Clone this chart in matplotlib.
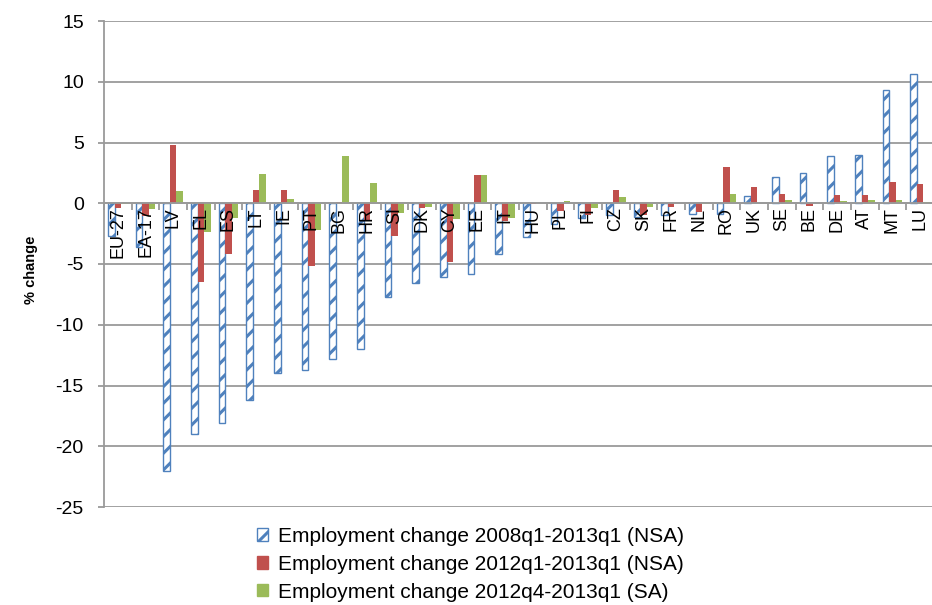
import numpy as np
import matplotlib.pyplot as plt
from matplotlib.patches import Patch

plt.rcParams["font.family"] = ["Liberation Sans", "DejaVu Sans"]
plt.rcParams["hatch.linewidth"] = 2.2
plt.rcParams["axes.unicode_minus"] = False

countries = ["EU-27", "EA-17", "LV", "EL", "ES", "LT", "IE", "PT", "BG", "HR",
             "SI", "DK", "CY", "EE", "IT", "HU", "PL", "FI", "CZ", "SK",
             "FR", "NL", "RO", "UK", "SE", "BE", "DE", "AT", "MT", "LU"]

# employment change, %
chg_2008_2013 = [-2.7, -3.6, -22.0, -19.0, -18.1, -16.2, -14.0, -13.7, -12.8, -12.0,
                 -7.7, -6.6, -6.1, -5.8, -4.2, -2.8, -1.7, -1.2, -1.0, -1.1,
                 -1.0, -0.9, -0.85, 0.6, 2.2, 2.5, 3.9, 3.95, 9.35, 10.6]
chg_2012_2013 = [-0.4, -1.05, 4.8, -6.5, -4.2, 1.1, 1.1, -5.2, 0.1, -1.4,
                 -2.7, -0.4, -4.8, 2.3, -1.45, -0.05, -0.65, -1.0, 1.1, -1.0,
                 -0.3, -0.7, 3.0, 1.35, 0.75, -0.2, 0.65, 0.65, 1.75, 1.55]
chg_q4_q1 = [-0.1, -0.5, 1.0, -2.4, -1.2, 2.4, 0.35, -2.2, 3.9, 1.7,
             -0.8, -0.3, -1.3, 2.3, -1.25, 0.05, 0.2, -0.4, 0.55, -0.3,
             0.0, -0.1, 0.75, 0.05, 0.25, 0.05, 0.15, 0.3, 0.3, 0.1]

legend_labels = ["Employment change 2008q1-2013q1 (NSA)",
                 "Employment change 2012q1-2013q1 (NSA)",
                 "Employment change 2012q4-2013q1 (SA)"]

blue = "#4F81BD"
red = "#C0504D"
green = "#9BBB59"
grey = "#9A9A9A"

fig = plt.figure(figsize=(9.32, 6.05), dpi=100)
ax = fig.add_axes([104 / 932, 98 / 605, 830 / 932, 486 / 605])

x = np.arange(len(countries))
w = 0.24
ax.bar(x - w, chg_2008_2013, w, facecolor="white", edgecolor=blue,
       hatch="//", linewidth=1.0, zorder=1)
ax.bar(x, chg_2012_2013, w, color=red, zorder=1)
ax.bar(x + w, chg_q4_q1, w, color=green, zorder=1)

ax.set_ylim(-25, 15)
ax.set_xlim(-0.5, len(countries) - 0.5)
ax.set_yticks(np.arange(-25, 16, 5))
for yv in np.arange(-25, 16, 5):
    ax.axhline(yv, color=grey, linewidth=1.3, zorder=0.5)
ax.set_axisbelow(False)

for s in ["top", "right"]:
    ax.spines[s].set_visible(False)
ax.spines["left"].set_color(grey)
ax.spines["left"].set_linewidth(1.3)
ax.spines["bottom"].set_position(("data", 0))
ax.spines["bottom"].set_color(grey)
ax.spines["bottom"].set_linewidth(1.3)

ax.set_xticks(x)
ax.set_xticklabels(countries, rotation=90, fontsize=13)
ax.set_xticks(np.arange(-0.5, len(countries), 1), minor=True)
ax.tick_params(axis="x", which="major", length=0, pad=3)
ax.tick_params(axis="x", which="minor", length=5, width=1.3, color=grey, direction="out")
ax.tick_params(axis="y", length=4.5, width=1.3, color=grey, labelsize=14, pad=10)

ax.set_ylabel("% change", fontsize=10.5, fontweight="bold")
ax.yaxis.set_label_coords(-0.08, 0.488)

handles = [Patch(facecolor="white", edgecolor=blue, hatch="//", linewidth=1.0),
           Patch(color=red), Patch(color=green)]
fig.legend(handles, legend_labels, loc="upper left",
           bbox_to_anchor=(257 / 932, 1 - 527 / 605), frameon=False, fontsize=15,
           handlelength=0.55, handleheight=0.55, handletextpad=0.45,
           labelspacing=0.42, borderaxespad=0, borderpad=0)

fig.savefig("out.png", dpi=100)
